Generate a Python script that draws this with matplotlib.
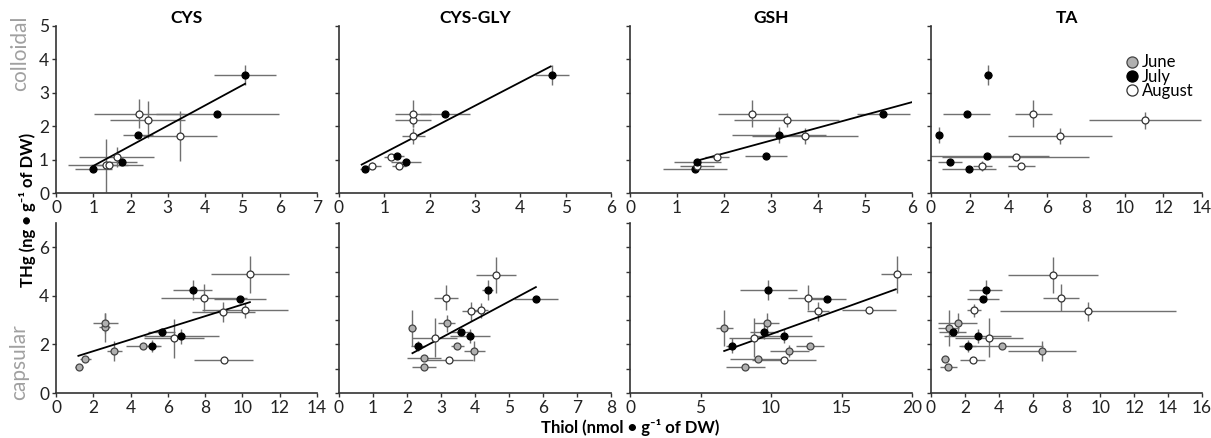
import matplotlib
matplotlib.use('Agg')
import matplotlib.pyplot as plt
from matplotlib.lines import Line2D

plt.rcParams['font.family'] = ['Lato', 'DejaVu Sans']

# month codes: 0 = June, 1 = July, 2 = August
thiols = ["CYS", "CYS-GLY", "GSH", "TA"]
months = ["June", "July", "August"]

# ---- colloidal (top row) ----
cys_col_x = [1.00, 1.33, 1.43, 1.63, 1.76, 2.19, 2.23, 2.46, 3.32, 4.32, 5.07]
cys_col_y = [0.72, 0.83, 0.83, 1.09, 0.94, 1.74, 2.38, 2.19, 1.71, 2.37, 3.52]
cys_col_xe = [0.5, 1.0, 0.5, 1.0, 0.4, 0.4, 1.2, 1.0, 1.0, 1.65, 0.83]
cys_col_ye = [0.1, 0.8, 0.1, 0.3, 0.1, 0.1, 0.42, 0.55, 0.75, 0.0, 0.3]
cys_col_m = [1, 2, 2, 2, 1, 1, 2, 2, 2, 1, 1]

cg_col_x = [0.57, 0.72, 1.14, 1.28, 1.32, 1.48, 1.64, 1.64, 1.64, 2.33, 4.70]
cg_col_y = [0.72, 0.82, 1.07, 1.10, 0.82, 0.94, 1.71, 2.18, 2.38, 2.36, 3.52]
cg_col_xe = [0.1, 0.2, 0.15, 0.15, 0.15, 0.33, 0.25, 0.4, 0.4, 0.55, 0.38]
cg_col_ye = [0.05, 0.1, 0.05, 0.05, 0.1, 0.05, 0.25, 0.2, 0.4, 0.0, 0.3]
cg_col_m = [1, 2, 2, 1, 2, 1, 2, 2, 2, 1, 1]

gsh_col_x = [1.39, 1.42, 1.43, 1.85, 2.90, 3.18, 3.72, 2.60, 3.33, 5.39]
gsh_col_y = [0.72, 0.82, 0.94, 1.07, 1.10, 1.74, 1.71, 2.38, 2.19, 2.36]
gsh_col_xe = [0.68, 0.36, 0.5, 0.25, 0.45, 1.0, 1.13, 0.73, 1.12, 0.57]
gsh_col_ye = [0.05, 0.05, 0.05, 0.05, 0.0, 0.25, 0.25, 0.4, 0.2, 0.0]
gsh_col_m = [1, 2, 1, 2, 1, 1, 2, 2, 2, 1]

ta_col_x = [0.43, 0.98, 1.84, 1.98, 2.66, 2.91, 2.95, 4.38, 4.67, 5.29, 6.67, 11.07]
ta_col_y = [1.74, 0.94, 2.36, 0.72, 0.82, 1.10, 3.52, 1.07, 0.82, 2.38, 1.71, 2.18]
ta_col_xe = [0.1, 0.64, 1.2, 1.4, 0.5, 3.2, 0.2, 3.8, 0.7, 0.95, 2.7, 2.9]
ta_col_ye = [0.25, 0.05, 0.0, 0.05, 0.15, 0.05, 0.3, 0.0, 0.05, 0.4, 0.25, 0.25]
ta_col_m = [1, 1, 1, 1, 2, 1, 1, 2, 2, 2, 2, 2]

# ---- capsular (bottom row) ----
cys_cap_x = [1.24, 1.58, 2.62, 2.65, 3.13, 4.64, 5.13, 5.66, 6.32, 6.73, 7.33, 7.93, 8.97, 8.99, 9.88, 10.12, 10.42]
cys_cap_y = [1.07, 1.41, 2.70, 2.88, 1.73, 1.93, 1.93, 2.52, 2.25, 2.33, 4.25, 3.93, 3.33, 1.36, 3.89, 3.40, 4.88]
cys_cap_xe = [0.2, 0.3, 0.3, 0.68, 0.4, 0.9, 0.5, 0.7, 1.6, 2.0, 1.04, 2.3, 1.7, 1.6, 1.4, 2.3, 2.1]
cys_cap_ye = [0.05, 0.1, 0.6, 0.4, 0.4, 0.1, 0.25, 0.1, 0.8, 0.3, 0.4, 0.55, 0.4, 0.0, 0.1, 0.3, 0.75]
cys_cap_m = [0, 0, 0, 0, 0, 0, 1, 1, 2, 1, 1, 2, 2, 2, 1, 2, 2]

cg_cap_x = [2.16, 2.33, 2.51, 2.50, 2.81, 3.17, 3.15, 3.23, 3.48, 3.58, 3.87, 3.85, 3.98, 4.18, 4.37, 4.62, 5.79]
cg_cap_y = [2.68, 1.95, 1.44, 1.07, 2.27, 2.88, 3.93, 1.37, 1.93, 2.52, 3.36, 2.34, 1.73, 3.40, 4.25, 4.85, 3.89]
cg_cap_xe = [0.1, 0.2, 0.5, 0.35, 0.65, 0.25, 0.35, 0.7, 0.2, 0.3, 0.25, 0.6, 0.3, 0.2, 0.15, 0.6, 0.65]
cg_cap_ye = [0.75, 0.2, 0.1, 0.1, 0.8, 0.35, 0.5, 0.0, 0.05, 0.1, 0.4, 0.3, 0.4, 0.3, 0.4, 0.75, 0.0]
cg_cap_m = [0, 1, 0, 0, 2, 0, 2, 2, 0, 1, 2, 1, 0, 2, 1, 2, 1]

gsh_cap_x = [6.7, 7.2, 8.19, 8.82, 9.08, 9.53, 9.69, 9.81, 10.9, 10.92, 11.3, 12.78, 12.6, 13.98, 13.34, 16.94, 18.92]
gsh_cap_y = [2.68, 1.95, 1.07, 2.27, 1.42, 2.52, 2.88, 4.25, 2.34, 1.37, 1.73, 1.93, 3.93, 3.89, 3.36, 3.40, 4.88]
gsh_cap_xe = [0.6, 0.4, 1.35, 1.8, 2.0, 1.0, 0.9, 2.0, 2.0, 2.3, 1.4, 1.0, 1.4, 1.35, 0.8, 1.9, 1.1]
gsh_cap_ye = [0.75, 0.3, 0.05, 0.8, 0.1, 0.3, 0.4, 0.4, 0.3, 0.0, 0.25, 0.05, 0.5, 0.0, 0.4, 0.1, 0.75]
gsh_cap_m = [0, 1, 0, 2, 0, 1, 0, 1, 1, 2, 0, 0, 2, 1, 2, 2, 2]

ta_cap_x = [0.83, 1.02, 1.04, 1.28, 1.57, 2.18, 2.46, 2.53, 2.75, 3.06, 3.22, 3.42, 4.20, 6.56, 7.21, 7.68, 9.27]
ta_cap_y = [1.42, 1.07, 2.68, 2.52, 2.88, 1.95, 1.37, 3.40, 2.34, 3.89, 4.25, 2.27, 1.93, 1.73, 4.85, 3.93, 3.36]
ta_cap_xe = [0.25, 0.5, 0.6, 0.8, 1.15, 0.5, 0.75, 0.4, 2.0, 0.95, 1.0, 2.0, 2.4, 2.0, 2.65, 1.05, 5.2]
ta_cap_ye = [0.1, 0.05, 0.75, 0.1, 0.4, 0.25, 0.05, 0.25, 0.3, 0.05, 0.4, 0.8, 0.05, 0.4, 0.75, 0.55, 0.4]
ta_cap_m = [0, 0, 0, 1, 0, 1, 2, 2, 1, 1, 1, 2, 0, 0, 2, 2, 2]

# regression lines (end points), None where no fit is shown
fit_col = [((1.0, 5.07), (0.81, 3.27)), ((0.5, 4.67), (0.85, 3.79)), ((1.38, 6.0), (0.95, 2.72)), None]
fit_cap = [((1.2, 10.4), (1.53, 3.74)), ((2.16, 5.79), (1.64, 4.36)), ((6.68, 18.85), (1.73, 4.27)), None]

# x axis limits per panel
xmax_col = [7, 6, 6, 14]
xmax_cap = [14, 8, 20, 16]

fill = ['#b0b0b0', 'black', 'white']
edge = ['#444444', 'black', '#333333']

col_data = [
    (cys_col_x, cys_col_y, cys_col_xe, cys_col_ye, cys_col_m),
    (cg_col_x, cg_col_y, cg_col_xe, cg_col_ye, cg_col_m),
    (gsh_col_x, gsh_col_y, gsh_col_xe, gsh_col_ye, gsh_col_m),
    (ta_col_x, ta_col_y, ta_col_xe, ta_col_ye, ta_col_m),
]
cap_data = [
    (cys_cap_x, cys_cap_y, cys_cap_xe, cys_cap_ye, cys_cap_m),
    (cg_cap_x, cg_cap_y, cg_cap_xe, cg_cap_ye, cg_cap_m),
    (gsh_cap_x, gsh_cap_y, gsh_cap_xe, gsh_cap_ye, gsh_cap_m),
    (ta_cap_x, ta_cap_y, ta_cap_xe, ta_cap_ye, ta_cap_m),
]


def draw(ax, data, fit):
    x, y, xe, ye, m = data
    ax.errorbar(x, y, xerr=xe, yerr=ye, fmt='none', ecolor='#707070',
                elinewidth=1.0, capsize=0, zorder=1)
    if fit is not None:
        ax.plot(fit[0], fit[1], color='black', lw=1.3, zorder=2)
    for i in range(len(x)):
        ax.plot(x[i], y[i], 'o', ms=5, mfc=fill[m[i]], mec=edge[m[i]],
                mew=0.9, zorder=3)


def style(ax):
    for s in ['top', 'right']:
        ax.spines[s].set_visible(False)
    for s in ['left', 'bottom']:
        ax.spines[s].set_color('#333333')
        ax.spines[s].set_linewidth(1.2)
    ax.tick_params(direction='out', length=3, width=1, labelsize=12.5,
                   colors='#333333', pad=2)
    for lab in ax.get_xticklabels() + ax.get_yticklabels():
        lab.set_color('#222222')


fig = plt.figure(figsize=(12.11, 4.38), dpi=100)
W, H = 1211, 438
xs = [(56, 317), (339, 611), (630, 912), (931, 1202)]

for i in range(4):
    l, r = xs[i]
    # colloidal row
    ax = fig.add_axes([l / W, 1 - 193 / H, (r - l) / W, (193 - 26) / H])
    draw(ax, col_data[i], fit_col[i])
    ax.set_xlim(0, xmax_col[i])
    ax.set_ylim(0, 5)
    ax.set_yticks(range(0, 6))
    if i > 0:
        ax.set_yticklabels([])
    ax.set_xticks(range(0, xmax_col[i] + 1, 2 if xmax_col[i] > 8 else 1))
    style(ax)
    ax.set_title(thiols[i], fontsize=12.5, fontweight='bold', pad=2)
    if i == 3:
        handles = [Line2D([], [], marker='o', ls='none', ms=8, mfc=fill[k],
                          mec=edge[k], mew=0.9) for k in range(3)]
        ax.legend(handles, months, loc='upper right', bbox_to_anchor=(1.0, 0.88),
                  frameon=False, fontsize=12, handletextpad=0.1,
                  labelspacing=-0.1, borderpad=0, handlelength=1.0)

    # capsular row
    ax2 = fig.add_axes([l / W, 1 - 393 / H, (r - l) / W, (393 - 223) / H])
    draw(ax2, cap_data[i], fit_cap[i])
    ax2.set_xlim(0, xmax_cap[i])
    ax2.set_ylim(0, 7)
    if i == 0:
        ax2.set_yticks([0, 2, 4, 6])
    else:
        ax2.set_yticks(range(0, 8))
        ax2.set_yticklabels([])
    step = 5 if xmax_cap[i] == 20 else (2 if xmax_cap[i] > 8 else 1)
    ax2.set_xticks(range(0, xmax_cap[i] + 1, step))
    style(ax2)

fig.text(20 / W, 1 - 53 / H, 'colloidal', rotation=90, ha='center', va='center',
         fontsize=15, color='#a0a0a0')
fig.text(19 / W, 1 - 362 / H, 'capsular', rotation=90, ha='center', va='center',
         fontsize=15, color='#a0a0a0')
fig.text(28 / W, 1 - 210 / H, 'THg (ng • g⁻¹ of DW)', rotation=90,
         ha='center', va='center', fontsize=12, fontweight='bold')
fig.text(630 / W, 1 - 428 / H, 'Thiol (nmol • g⁻¹ of DW)', ha='center',
         va='center', fontsize=12, fontweight='bold')

plt.savefig('out.png', dpi=100)
